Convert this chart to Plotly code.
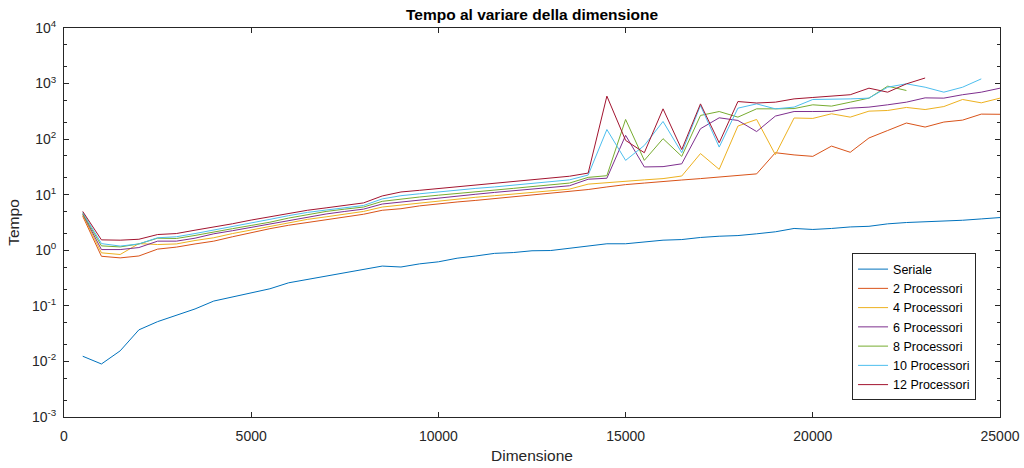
import plotly.graph_objects as go

dimensione = list(range(500, 25001, 500))

seriale = [0.0124, 0.0090, 0.0155, 0.037, 0.052, 0.068, 0.088, 0.122, 0.144, 0.172,
           0.203, 0.26, 0.30, 0.343, 0.40, 0.457, 0.52, 0.50, 0.57, 0.62,
           0.72, 0.79, 0.88, 0.91, 0.98, 0.99, 1.09, 1.19, 1.31, 1.31,
           1.40, 1.52, 1.56, 1.70, 1.79, 1.84, 1.98, 2.15, 2.47, 2.37,
           2.47, 2.63, 2.70, 2.99, 3.16, 3.25, 3.35, 3.47, 3.67, 3.88]

proc2 = [4.1, 0.78, 0.73, 0.79, 1.05, 1.14, 1.3, 1.46, 1.75, 2.1,
         2.45, 2.82, 3.16, 3.47, 4.0, 4.45, 5.25, 5.6, 6.3, 6.9,
         7.4, 7.9, 8.5, 9.1, 9.8, 10.5, 11.2, 12.4, 13.8, 15.2,
         16.2, 17.5, 18.4, 19.5, 20.8, 22.4, 23.7, 57, 52, 49,
         75, 58, 105, 143, 195, 165, 203, 220, 282, 280]

proc4 = [4.3, 0.9, 0.84, 1.32, 1.27, 1.3, 1.5, 1.68, 2.0, 2.3,
         2.7, 3.1, 3.6, 4.0, 4.5, 5.0, 6.0, 6.5, 7.2, 7.8,
         8.4, 9.0, 9.6, 10.3, 11.0, 11.8, 12.6, 15.5, 16.5, 17.8,
         18.5, 19.5, 21.7, 55, 28.6, 172, 226, 52.5, 240, 236,
         286, 249, 319, 328, 372, 341, 386, 517, 450, 547]

proc6 = [4.5, 1.03, 1.03, 1.12, 1.46, 1.46, 1.65, 1.98, 2.25, 2.6,
         3.0, 3.4, 4.0, 4.5, 5.0, 5.5, 6.8, 7.4, 8.1, 8.8,
         9.5, 10.2, 11.0, 11.8, 12.6, 13.5, 14.5, 19.0, 19.8, 117,
         31.6, 32, 36, 154, 242, 217, 137, 260, 314, 314,
         316, 361, 377, 415, 463, 553, 547, 630, 700, 826]

proc8 = [4.6, 1.2, 1.15, 1.3, 1.65, 1.63, 1.85, 2.1, 2.45, 2.8,
         3.2, 3.8, 4.4, 5.0, 5.5, 6.0, 7.6, 8.4, 9.1, 9.8,
         10.6, 11.4, 12.2, 13.0, 14.0, 15.0, 16.2, 20.5, 22, 226,
         41.5, 102, 49, 267, 314, 249, 351, 351, 355, 415,
         393, 463, 547, 898, 750]

proc10 = [4.8, 1.32, 1.19, 1.3, 1.68, 1.75, 2.0, 2.3, 2.7, 3.1,
          3.6, 4.2, 4.8, 5.3, 5.9, 6.4, 8.4, 9.6, 10.4, 11.3,
          12.1, 13.0, 13.8, 14.8, 15.8, 17.0, 18.5, 22.6, 149, 41.5,
          77, 208, 57, 403, 72, 361, 431, 351, 377, 517,
          517, 530, 547, 861, 990, 860, 700, 860, 1214]

proc12 = [5.0, 1.54, 1.52, 1.58, 1.92, 2.0, 2.3, 2.6, 3.0, 3.5,
          4.0, 4.58, 5.25, 5.8, 6.45, 7.12, 9.5, 11.2, 12.0, 12.9,
          13.8, 14.8, 15.9, 17.0, 18.5, 20.0, 21.5, 24.5, 594, 95,
          57, 351, 65, 431, 86, 475, 447, 463, 530, 562,
          595, 630, 826, 700, 988, 1260]

series_names = ["Seriale", "2 Processori", "4 Processori", "6 Processori",
                "8 Processori", "10 Processori", "12 Processori"]
series_values = [seriale, proc2, proc4, proc6, proc8, proc10, proc12]
colors = ["#0072BD", "#D95319", "#EDB120", "#7E2F8E", "#77AC30", "#4DBEEE", "#A2142F"]

x_ticks = [0, 5000, 10000, 15000, 20000, 25000]
y_exps = [-3, -2, -1, 0, 1, 2, 3, 4]

fig = go.Figure()
for name, vals, col in zip(series_names, series_values, colors):
    fig.add_trace(go.Scatter(x=dimensione[:len(vals)], y=vals, mode="lines", name=name,
                             line=dict(color=col, width=1)))

axis_col = "#262626"
font_family = "Liberation Sans, Arial, sans-serif"

fig.update_layout(
    width=1024, height=468,
    margin=dict(l=64, r=24, t=28, b=51, autoexpand=False),
    paper_bgcolor="white", plot_bgcolor="white",
    font=dict(family=font_family, size=14, color=axis_col),
    title=dict(text="<b>Tempo al variare della dimensione</b>", x=0.5, xref="paper",
               xanchor="center", yref="container", y=1 - 15 / 468, yanchor="middle",
               font=dict(size=15.5, color="black", family=font_family)),
    showlegend=True,
    legend=dict(x=0.9744, y=0.2314, xanchor="right", yanchor="middle",
                bgcolor="white", bordercolor=axis_col, borderwidth=1,
                font=dict(size=12.5, color="black"), tracegroupgap=0,
                itemwidth=30),
)

fig.update_xaxes(range=[0, 25000], tickvals=x_ticks, ticktext=[str(v) for v in x_ticks],
                 ticks="inside", ticklen=5, tickcolor=axis_col, automargin=False,
                 showline=True, linecolor=axis_col, linewidth=1, mirror="ticks",
                 showgrid=False, zeroline=False, ticklabelstandoff=6,
                 title=dict(text="Dimensione", font=dict(size=15.5, color=axis_col), standoff=7),
                 tickfont=dict(size=14, color=axis_col))

fig.update_yaxes(type="log", range=[-3, 4],
                 tickvals=[10.0 ** e for e in y_exps],
                 ticktext=["10<sup>%d</sup>" % e for e in y_exps],
                 ticks="inside", ticklen=5, tickcolor=axis_col, automargin=False,
                 minor=dict(ticks="inside", ticklen=3, tickcolor=axis_col, showgrid=False),
                 showline=True, linecolor=axis_col, linewidth=1, mirror="allticks",
                 showgrid=False, zeroline=False, ticklabelstandoff=4,
                 title=dict(text="Tempo", font=dict(size=15.5, color=axis_col), standoff=8),
                 tickfont=dict(size=14, color=axis_col))

fig.write_html("out.html", config={"displayModeBar": False},
               post_script="document.body.style.margin='0';document.body.style.padding='0';")
